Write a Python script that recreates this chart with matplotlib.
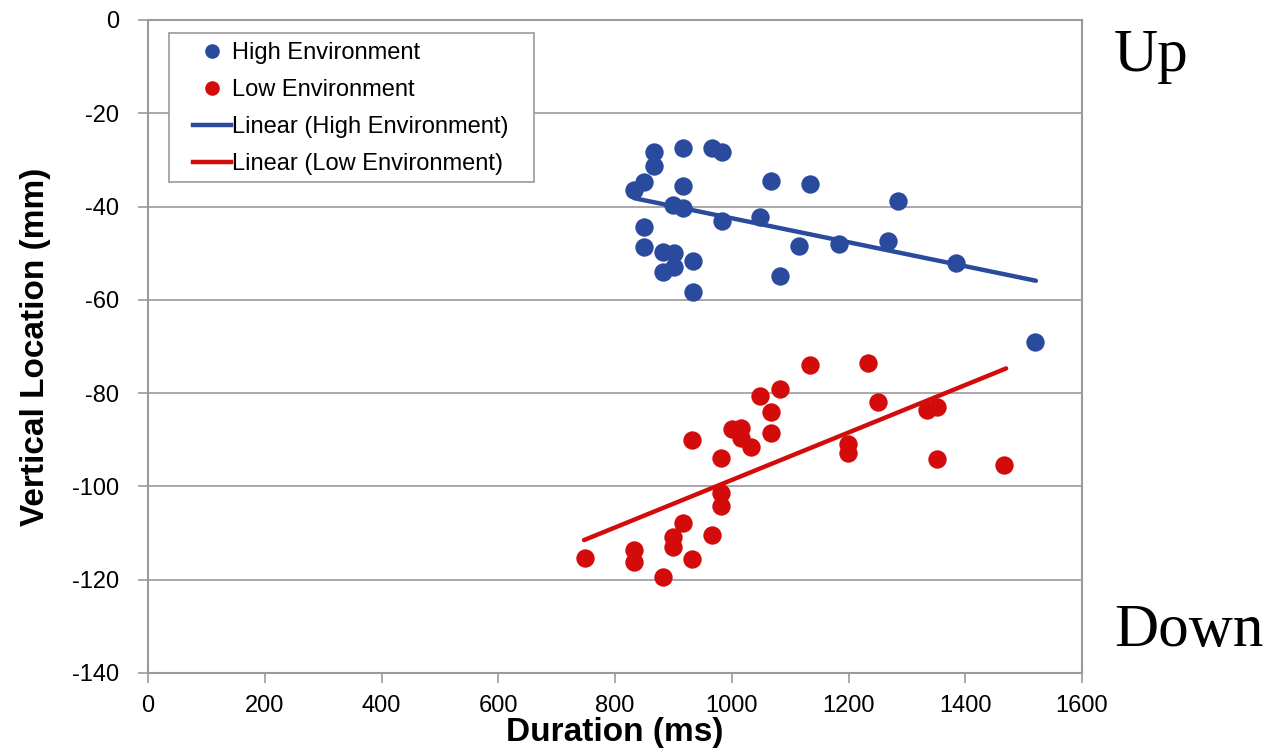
import matplotlib
matplotlib.use("Agg")
import matplotlib.pyplot as plt
from matplotlib.lines import Line2D
from matplotlib.patches import Rectangle

# High environment (blue) points: duration (ms), vertical location (mm)
high_x = [866, 866, 916, 967, 984, 849, 833, 916, 1067, 1134, 1284, 899, 916, 983,
          1049, 849, 849, 882, 901, 882, 901, 933, 1116, 1183, 1267, 1384, 1083, 933, 1519]
high_y = [-28.4, -31.4, -27.4, -27.5, -28.4, -34.7, -36.4, -35.5, -34.5, -35.2, -38.8,
          -39.7, -40.4, -43.1, -42.2, -44.3, -48.6, -49.7, -50.0, -54.0, -52.9, -51.6,
          -48.4, -48.0, -47.3, -52.2, -54.9, -58.4, -69.0]

# Low environment (red) points
low_x = [748, 832, 832, 883, 899, 899, 916, 932, 966, 982, 982, 982, 932, 1000, 1016,
         1016, 1033, 1067, 1067, 1049, 1083, 1134, 1234, 1251, 1199, 1199, 1334, 1352,
         1351, 1467]
low_y = [-115.3, -113.6, -116.1, -119.5, -110.9, -112.9, -107.9, -115.5, -110.4, -101.5,
         -104.2, -93.8, -90.0, -87.7, -87.5, -89.7, -91.6, -88.5, -84.1, -80.6, -79.2,
         -74.0, -73.5, -82.0, -91.0, -92.8, -83.7, -83.0, -94.2, -95.5]

# trend lines as drawn (end points)
high_fit_x = [833, 1521]
high_fit_y = [-38.2, -55.9]
low_fit_x = [747, 1470]
low_fit_y = [-111.5, -74.7]

x_ticks = [0, 200, 400, 600, 800, 1000, 1200, 1400, 1600]
y_ticks = [0, -20, -40, -60, -80, -100, -120, -140]

BLUE = "#2a4a9e"
RED = "#d40b0b"
GRID = "#9a9a9a"
W, H = 1276, 754

plt.rcParams["font.family"] = ["Liberation Sans", "DejaVu Sans"]
plt.rcParams["axes.unicode_minus"] = False

fig = plt.figure(figsize=(W / 100, H / 100), dpi=100)
ax = fig.add_axes([148 / W, 1 - 673 / H, 934 / W, 653 / H])

ax.scatter(high_x, high_y, s=175, color=BLUE, zorder=3, linewidths=0)
ax.scatter(low_x, low_y, s=175, color=RED, zorder=3, linewidths=0)
ax.plot(high_fit_x, high_fit_y, color=BLUE, linewidth=3.2, solid_capstyle="round", zorder=4)
ax.plot(low_fit_x, low_fit_y, color=RED, linewidth=3.2, solid_capstyle="round", zorder=4)

ax.set_xlim(0, 1600)
ax.set_ylim(-140, 0)
ax.set_xticks(x_ticks)
ax.set_yticks(y_ticks)
ax.tick_params(axis="both", labelsize=17, color=GRID, length=7, width=1.2, direction="out")
ax.tick_params(axis="x", pad=9)
ax.tick_params(axis="y", pad=14)
ax.grid(axis="y", color=GRID, linewidth=1.2)
ax.set_axisbelow(True)
for sp in ax.spines.values():
    sp.set_color(GRID)
    sp.set_linewidth(1.5)

ax.set_xlabel("Duration (ms)", fontsize=24, fontweight="bold", labelpad=0)
ax.set_ylabel("Vertical Location (mm)", fontsize=24, fontweight="bold", labelpad=15)

# legend: frame drawn separately so the inner padding matches
fig.patches.append(Rectangle((169 / W, 1 - 182 / H), 365 / W, 149 / H,
                             transform=fig.transFigure, facecolor="white",
                             edgecolor=GRID, linewidth=1.2, zorder=5))
handles = [
    Line2D([], [], marker="o", linestyle="none", color=BLUE, markersize=9.5),
    Line2D([], [], marker="o", linestyle="none", color=RED, markersize=9.5),
    Line2D([], [], color=BLUE, linewidth=3.2),
    Line2D([], [], color=RED, linewidth=3.2),
]
labels = ["High Environment", "Low Environment",
          "Linear (High Environment)", "Linear (Low Environment)"]
leg = fig.legend(handles, labels, loc="upper left", bbox_to_anchor=(193 / W, 1 - 42 / H),
                 fontsize=17, frameon=False, handlelength=1.6,
                 handletextpad=0.05, borderpad=0, labelspacing=0.64,
                 borderaxespad=0)
leg.set_zorder(6)

fig.text(0.873, 0.925, "Up", fontsize=44, family=["Liberation Serif", "DejaVu Serif"],
         ha="left", va="center")
fig.text(0.873, 0.163, "Down", fontsize=44, family=["Liberation Serif", "DejaVu Serif"],
         ha="left", va="center")

fig.savefig("out.png", dpi=100)
